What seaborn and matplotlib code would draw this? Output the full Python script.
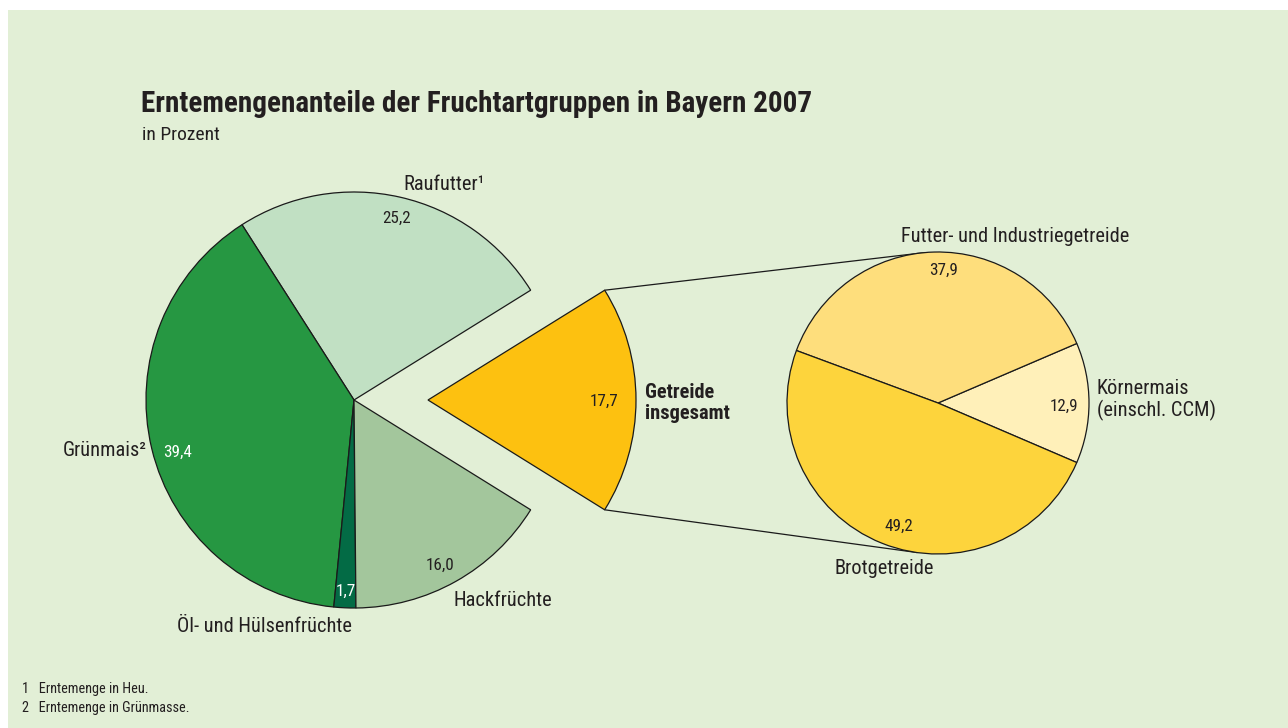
import numpy as np
import matplotlib
matplotlib.use("Agg")
from matplotlib import pyplot as plt
from matplotlib.patches import Rectangle
import seaborn as sns

# data
main_labels = ['Getreide insgesamt', 'Raufutter', 'Grünmais', 'Öl- und Hülsenfrüchte', 'Hackfrüchte']
main_values = [17.7, 25.2, 39.4, 1.7, 16.0]
main_colors = ['#fdc110', '#c1e0c3', '#269742', '#036b45', '#a3c69c']

grain_labels = ['Körnermais (einschl. CCM)', 'Futter- und Industriegetreide', 'Brotgetreide']
grain_values = [12.9, 37.9, 49.2]
grain_colors = ['#fff0b9', '#fede7c', '#fdd43c']

sns.set_theme(style='white')
plt.rcParams['font.family'] = ['Roboto Condensed', 'Liberation Sans', 'DejaVu Sans']

W, H = 1288, 728
fig = plt.figure(figsize=(W / 100, H / 100), dpi=100)
fig.patch.set_facecolor('white')
ax = fig.add_axes([0, 0, 1, 1])

def Y(y):
    # image rows -> data y
    return H - y

ax.add_patch(Rectangle((8, 0), W - 8, H - 10, facecolor='#e2efd6', edgecolor='none', zorder=0))

edge = dict(edgecolor='#1a1a1a', linewidth=0.9)

# left pie, Getreide pulled out (explode is in data units here)
r1 = 208
explode = [74, 0, 0, 0, 0]
w1, _ = ax.pie(main_values, colors=main_colors, startangle=-main_values[0] / 2 * 3.6,
               counterclock=True, radius=r1, center=(354, Y(400)), explode=explode,
               wedgeprops=edge, frame=True)

# right pie, breakdown of Getreide
r2 = 151
c2 = (938, Y(403))
w2, _ = ax.pie(grain_values, colors=grain_colors, startangle=-grain_values[0] / 2 * 3.6,
               counterclock=True, radius=r2, center=c2,
               wedgeprops=edge, frame=True)
ax.set_xlim(0, W)
ax.set_ylim(0, H)
ax.set_aspect('equal')
ax.axis('off')

# connecting lines from the pulled-out slice to the detail pie
g = w1[0]
cx, cy = g.center
for th, th2 in [(g.theta2, 95), (g.theta1, 262)]:
    x0 = cx + g.r * np.cos(np.radians(th))
    y0 = cy + g.r * np.sin(np.radians(th))
    x1 = c2[0] + r2 * np.cos(np.radians(th2))
    y1 = c2[1] + r2 * np.sin(np.radians(th2))
    ax.plot([x0, x1], [y0, y1], color='#1a1a1a', lw=0.9, zorder=0.5)

dark = '#231f20'
lab = 14.7
num = 12.3

ax.text(141, Y(104), 'Erntemengenanteile der Fruchtartgruppen in Bayern 2007',
        fontsize=21, fontweight='bold', color=dark, va='center', ha='left')
ax.text(142, Y(135), 'in Prozent', fontsize=14, color=dark, va='center', ha='left')

# left pie labels
ax.text(403, Y(185), 'Raufutter¹', fontsize=lab, color=dark, va='center', ha='left')
ax.text(397, Y(218), '25,2', fontsize=num, color=dark, va='center', ha='center')
ax.text(147, Y(451), 'Grünmais²', fontsize=lab, color=dark, va='center', ha='right')
ax.text(178, Y(452), '39,4', fontsize=num, color='white', va='center', ha='center')
ax.text(346, Y(591), '1,7', fontsize=num, color='white', va='center', ha='center')
ax.text(440, Y(565), '16,0', fontsize=num, color=dark, va='center', ha='center')
ax.text(454, Y(600), 'Hackfrüchte', fontsize=lab, color=dark, va='center', ha='left')
ax.text(264, Y(627), 'Öl- und Hülsenfrüchte', fontsize=lab, color=dark, va='center', ha='center')
ax.text(604, Y(401), '17,7', fontsize=num, color=dark, va='center', ha='center')
ax.text(645, Y(403), 'Getreide\ninsgesamt', fontsize=14.7, fontweight='bold', color=dark,
        va='center', ha='left', linespacing=1.15)

# right pie labels
ax.text(1015, Y(236), 'Futter- und Industriegetreide', fontsize=lab, color=dark, va='center', ha='center')
ax.text(944, Y(270), '37,9', fontsize=num, color=dark, va='center', ha='center')
ax.text(1064, Y(406), '12,9', fontsize=num, color=dark, va='center', ha='center')
ax.text(1097, Y(400), 'Körnermais\n(einschl. CCM)', fontsize=lab, color=dark, va='center',
        ha='left', linespacing=1.1)
ax.text(899, Y(526), '49,2', fontsize=num, color=dark, va='center', ha='center')
ax.text(884, Y(568), 'Brotgetreide', fontsize=lab, color=dark, va='center', ha='center')

# footnotes
ax.text(22, Y(689), '1   Erntemenge in Heu.', fontsize=10.3, color=dark, va='center', ha='left')
ax.text(22, Y(708), '2   Erntemenge in Grünmasse.', fontsize=10.3, color=dark, va='center', ha='left')

fig.savefig('out.png', dpi=100, facecolor=fig.get_facecolor())
